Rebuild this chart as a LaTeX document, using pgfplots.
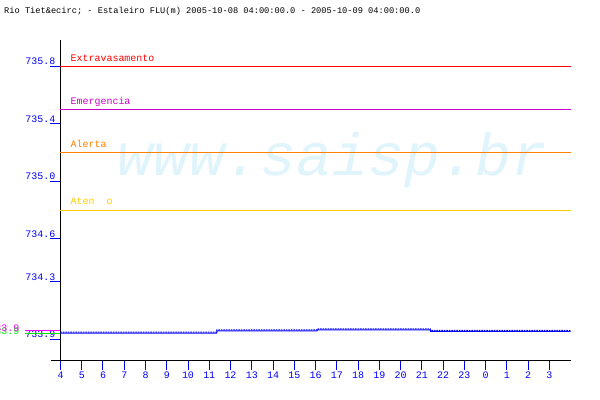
\documentclass[border=0pt]{standalone}
\usepackage{pgfplots}
\pgfplotsset{compat=1.18}
\usepackage{fontspec}
\setmainfont{Liberation Sans}
\newfontfamily\mono{Liberation Mono}
\definecolor{wmblue}{RGB}{224,244,252}
\definecolor{myMag}{RGB}{204,0,204}
\definecolor{myOra}{RGB}{255,128,0}
\definecolor{myYel}{RGB}{255,204,0}
\definecolor{myBlue}{RGB}{0,0,255}
\definecolor{myGreen}{RGB}{0,230,0}
\definecolor{myPink}{RGB}{255,0,255}
\begin{document}
\begin{tikzpicture}
\path[use as bounding box] (0,0) rectangle (600bp,400bp);
\node[anchor=west, inner sep=0pt, font=\mono\fontsize{8.7}{9}\selectfont] at (4bp,389bp) {Rio Tiet\&ecirc; - Estaleiro FLU(m) 2005-10-08 04:00:00.0 - 2005-10-09 04:00:00.0};
\begin{axis}[
  at={(60.5bp,39.5bp)}, anchor=south west,
  scale only axis, width=510bp, height=320.5bp,
  xmin=0, xmax=24, ymin=733.7512, ymax=735.9847,
  axis x line*=bottom, axis y line*=left,
  axis line style={black, line width=1bp, -},
  clip=false,
  xtick={0,1,...,23},
  xticklabels={4,5,6,7,8,9,10,11,12,13,14,15,16,17,18,19,20,21,22,23,0,1,2,3},
  ytick={733.9,734.3,734.6,735.0,735.4,735.8},
  yticklabels={733.9,734.3,734.6,735.0,735.4,735.8},
  tick align=outside, major tick length=10bp,
  tick style={color=myBlue, line width=1bp},
  ticklabel style={font=\mono\fontsize{10}{10}\selectfont, text=myBlue, inner sep=0pt},
  xticklabel style={anchor=north, yshift=-1.5bp},
  yticklabel style={anchor=base east, xshift=5bp, yshift=1.5bp},
]
\node[anchor=base, inner sep=0pt, text=wmblue, font=\mono\itshape\fontsize{60}{60}\selectfont] at (axis cs:12.8,735.041) {www.saisp.br};
% threshold lines
\addplot[color=red, line width=1.2bp] coordinates {(0,735.8) (24,735.8)};
\addplot[color=myMag, line width=1.2bp] coordinates {(0,735.5) (24,735.5)};
\addplot[color=myOra, line width=1.2bp] coordinates {(0,735.2) (24,735.2)};
\addplot[color=myYel, line width=1.2bp] coordinates {(0,734.7965) (24,734.7965)};
\node[anchor=base west, inner sep=0pt, text=red, font=\mono\fontsize{10}{10}\selectfont] at (axis cs:0.47,735.835) {Extravasamento};
\node[anchor=base west, inner sep=0pt, text=myMag, font=\mono\fontsize{10}{10}\selectfont] at (axis cs:0.47,735.535) {Emergencia};
\node[anchor=base west, inner sep=0pt, text=myOra, font=\mono\fontsize{10}{10}\selectfont] at (axis cs:0.47,735.238) {Alerta};
\node[anchor=base west, inner sep=0pt, text=myYel, font=\mono\fontsize{10}{10}\selectfont] at (axis cs:0.47,734.835) {Aten\ \ o};
% data
\addplot[color=myBlue, line width=1bp] coordinates {(0,733.942) (7.35,733.942) (7.36,733.958) (12.07,733.958) (12.08,733.965) (17.40,733.965) (17.41,733.955) (24,733.955)};
\addplot[color=myBlue, line width=1bp, dash pattern=on 1.5bp off 1bp, yshift=1bp] coordinates {(0,733.942) (7.35,733.942) (7.36,733.958) (12.07,733.958) (12.08,733.965) (17.40,733.965) (17.41,733.955) (24,733.955)};
% min / max markers
\draw[color=myGreen, line width=1bp] (axis cs:-1.65,733.94) -- (axis cs:0,733.94);
\draw[color=myPink, line width=1bp] (axis cs:-1.65,733.958) -- (axis cs:0,733.958);
\node[anchor=base east, inner sep=0pt, text=myGreen, font=\mono\fontsize{10}{10}\selectfont] at (axis cs:-1.93,733.935) {733.9};
\node[anchor=base east, inner sep=0pt, text=myPink, font=\mono\fontsize{10}{10}\selectfont] at (axis cs:-1.93,733.955) {733.9};
\draw[black, line width=1bp] (axis cs:-0.47,733.7512) -- (axis cs:0,733.7512);
\end{axis}
\end{tikzpicture}
\end{document}
